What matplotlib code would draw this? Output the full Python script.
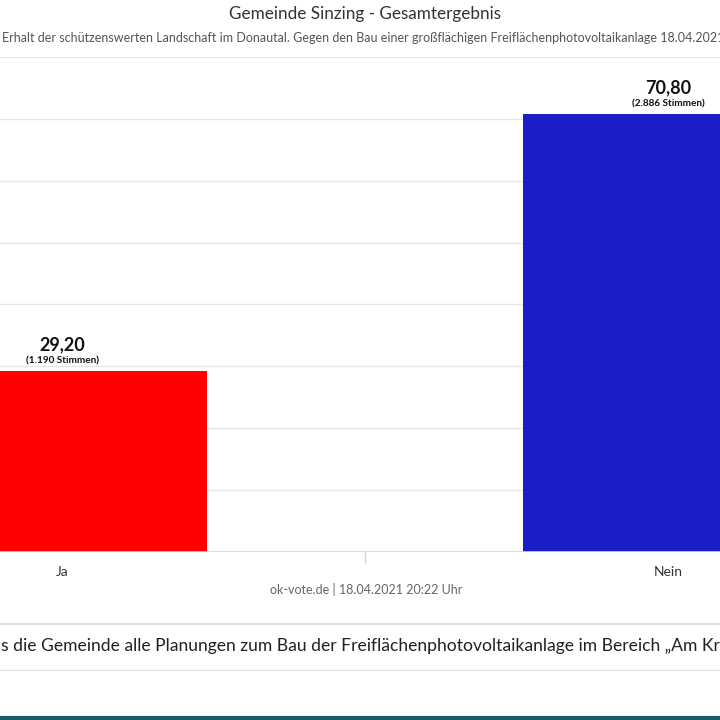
import matplotlib.pyplot as plt
import numpy as np

plt.rcParams['font.family'] = ['Lato', 'DejaVu Sans']

categories = ['Ja', 'Nein']
percent = [29.20, 70.80]
votes = ['1.190', '2.886']
bar_colors = ['#ff0000', '#1b1dc6']

W, H = 720, 720


def fx(px):
    return px / W


def fy(py):
    return 1 - py / H


fig = plt.figure(figsize=(7.2, 7.2), dpi=100)
fig.patch.set_facecolor('white')

# plot area is wider than the picture (cropped screenshot)
left, right = -241, 971
top, base = 57, 551.7
ax = fig.add_axes([fx(left), fy(base), (right - left) / W, (base - top) / H])
ax.set_xlim(-0.5, 1.5)
ax.set_ylim(0, 80)
x = np.arange(len(categories))
ax.bar(x, percent, width=0.48, color=bar_colors, zorder=3)

for y in range(10, 90, 10):
    ax.axhline(y, color='#e6e6e6', lw=1, zorder=1)
ax.axhline(0, color='#ccd6eb', lw=1.2, zorder=4)
for s in ax.spines.values():
    s.set_visible(False)
ax.set_yticks([])
ax.set_xticks([])
ax.set_xticks([0.5], minor=True)
ax.tick_params(axis='x', which='minor', length=8, color='#ccd6eb', width=1)
ax.set_xticklabels([], minor=True)

for xi, cat, p, v in zip(x, categories, percent, votes):
    ax.annotate(f'{p:.2f}'.replace('.', ','), (xi, p), xytext=(0, 13),
                textcoords='offset points', ha='center', va='bottom',
                fontsize=13, fontweight='bold', color='#111111')
    ax.annotate(f'({v} Stimmen)', (xi, p), xytext=(0, 4),
                textcoords='offset points', ha='center', va='bottom',
                fontsize=7.2, fontweight='bold', color='#111111')
    ax.annotate(cat, (xi, 0), xytext=(0, -10), textcoords='offset points',
                ha='center', va='top', fontsize=10, color='#333333')

fig.text(fx(365), fy(14), 'Gemeinde Sinzing - Gesamtergebnis', ha='center',
         va='center', fontsize=12.3, color='#333333')
fig.text(fx(2), fy(38), 'Erhalt der schützenswerten Landschaft im Donautal. '
         'Gegen den Bau einer großflächigen Freiflächenphotovoltaikanlage 18.04.2021',
         ha='left', va='center', fontsize=9, color='#555555')
fig.text(fx(366), fy(590), 'ok-vote.de | 18.04.2021 20:22 Uhr', ha='center',
         va='center', fontsize=9, color='#666666')

fig.add_artist(plt.Line2D([0, 1], [fy(624), fy(624)], color='#d9d9d9', lw=1.2))
fig.add_artist(plt.Line2D([0, 1], [fy(670), fy(670)], color='#e3e3e3', lw=1))
fig.add_artist(plt.Line2D([0, 1], [fy(718), fy(718)], color='#1d5a6b', lw=3))
fig.text(fx(1), fy(646), 's die Gemeinde alle Planungen zum Bau der '
         'Freiflächenphotovoltaikanlage im Bereich „Am Kreuzberg“',
         ha='left', va='center', fontsize=12.6, color='#222222')

fig.savefig('out.png', dpi=100)
